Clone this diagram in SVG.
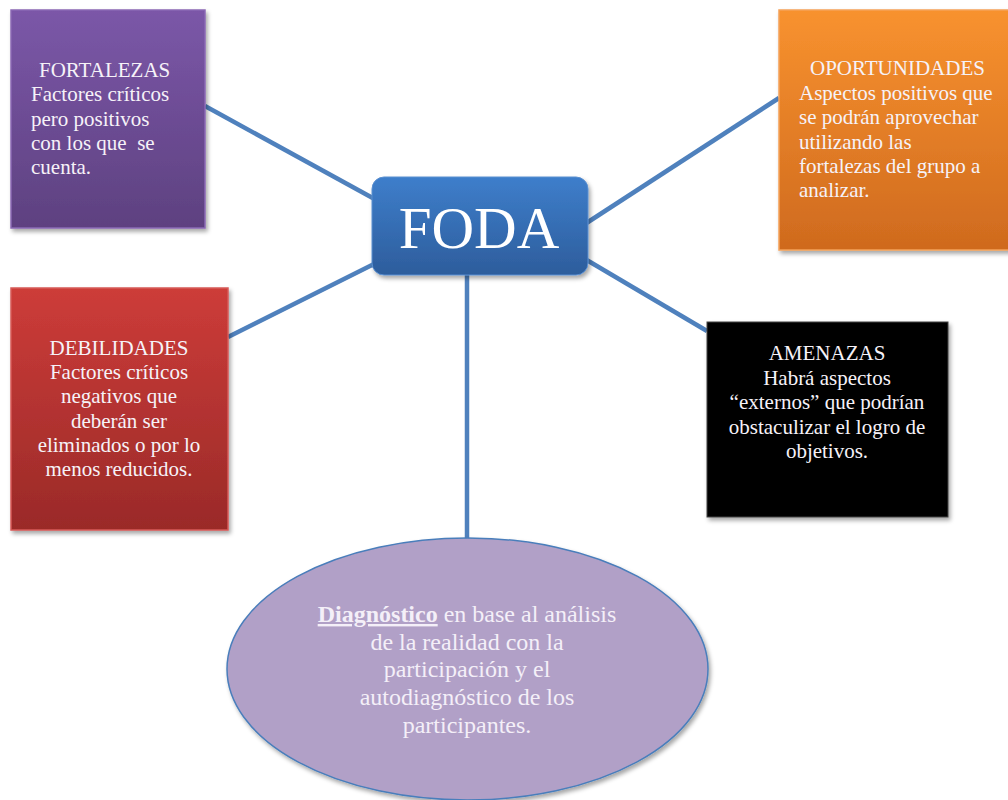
<svg xmlns="http://www.w3.org/2000/svg" width="1008" height="800" viewBox="0 0 1008 800">
  <style>
    .link { stroke: #4f81bd; stroke-width: 4.5; fill: none; }
    .lbl { font-family: "Liberation Serif", "Times New Roman", serif; font-size: 21px; fill: #f6f2f8; }
    .mid { text-anchor: middle; }
    .title { font-family: "Liberation Serif", "Times New Roman", serif; font-size: 59px; fill: #ffffff; text-anchor: middle; }
    .oval { font-family: "Liberation Serif", "Times New Roman", serif; font-size: 24px; fill: #f4eff8; text-anchor: middle; }
  </style>
  <defs>
    <filter id="shadow" x="-10%" y="-10%" width="125%" height="125%">
      <feDropShadow dx="2" dy="3" stdDeviation="2" flood-color="#000" flood-opacity="0.35"/>
    </filter>
    <linearGradient id="gPurple" x1="0" y1="0" x2="0" y2="1">
      <stop offset="0" stop-color="#7b57a8"/>
      <stop offset="1" stop-color="#5e4180"/>
    </linearGradient>
    <linearGradient id="gRed" x1="0" y1="0" x2="0" y2="1">
      <stop offset="0" stop-color="#cd3c39"/>
      <stop offset="1" stop-color="#9a2a28"/>
    </linearGradient>
    <linearGradient id="gOrange" x1="0" y1="0" x2="0" y2="1">
      <stop offset="0" stop-color="#f8922f"/>
      <stop offset="1" stop-color="#cf6a1e"/>
    </linearGradient>
    <linearGradient id="gBlue" x1="0" y1="0" x2="0" y2="1">
      <stop offset="0" stop-color="#3e7ecb"/>
      <stop offset="1" stop-color="#2d5d9c"/>
    </linearGradient>
  </defs>

  <!-- connectors from the central node to each quadrant and the diagnosis oval -->
  <g id="connectors">
    <line class="link" x1="205" y1="106" x2="380" y2="202"/>
    <line class="link" x1="228" y1="337" x2="378" y2="262"/>
    <line class="link" x1="779" y1="98" x2="585" y2="224"/>
    <line class="link" x1="707" y1="331" x2="585" y2="259"/>
    <line class="link" x1="467" y1="270" x2="467" y2="540"/>
  </g>

  <g id="fortalezas">
    <rect x="11" y="10" width="194" height="218" fill="url(#gPurple)" stroke="#8a68b4" stroke-width="1.5" filter="url(#shadow)"/>
    <text class="lbl" x="39" y="77">FORTALEZAS</text>
    <text class="lbl" x="31" y="101">Factores críticos</text>
    <text class="lbl" x="31" y="126">pero positivos</text>
    <text class="lbl" x="31" y="150" xml:space="preserve">con los que  se</text>
    <text class="lbl" x="31" y="174">cuenta.</text>
  </g>

  <g id="debilidades">
    <rect x="11" y="288" width="217" height="242" fill="url(#gRed)" stroke="#d65a57" stroke-width="1.5" filter="url(#shadow)"/>
    <text class="lbl mid" x="119" y="355">DEBILIDADES</text>
    <text class="lbl mid" x="119" y="379">Factores críticos</text>
    <text class="lbl mid" x="119" y="403">negativos que</text>
    <text class="lbl mid" x="119" y="428">deberán ser</text>
    <text class="lbl mid" x="119" y="452">eliminados o por lo</text>
    <text class="lbl mid" x="119" y="476">menos reducidos.</text>
  </g>

  <g id="oportunidades">
    <rect x="779" y="10" width="235" height="240" fill="url(#gOrange)" stroke="#f5a25a" stroke-width="1.5" filter="url(#shadow)"/>
    <text class="lbl" x="810" y="75">OPORTUNIDADES</text>
    <text class="lbl" x="799" y="100">Aspectos positivos que</text>
    <text class="lbl" x="799" y="124">se podrán aprovechar</text>
    <text class="lbl" x="799" y="149">utilizando las</text>
    <text class="lbl" x="799" y="173">fortalezas del grupo a</text>
    <text class="lbl" x="799" y="197">analizar.</text>
  </g>

  <g id="amenazas">
    <rect x="707" y="322" width="241" height="195" fill="#000000" stroke="#404040" stroke-width="1" filter="url(#shadow)"/>
    <text class="lbl mid" x="827" y="360">AMENAZAS</text>
    <text class="lbl mid" x="827" y="385">Habrá aspectos</text>
    <text class="lbl mid" x="827" y="409">“externos” que podrían</text>
    <text class="lbl mid" x="827" y="434">obstaculizar el logro de</text>
    <text class="lbl mid" x="827" y="458">objetivos.</text>
  </g>

  <g id="foda">
    <rect x="372" y="177" width="216" height="98" rx="12" ry="12" fill="url(#gBlue)" stroke="#5a8fd0" stroke-width="1" filter="url(#shadow)"/>
    <text class="title" x="479" y="248">FODA</text>
  </g>

  <g id="diagnostico">
    <ellipse cx="467.5" cy="669" rx="240.5" ry="131" fill="#b1a0c7" stroke="#4a7ebb" stroke-width="1.5" filter="url(#shadow)"/>
    <text class="oval" x="467" y="622"><tspan font-weight="bold" text-decoration="underline">Diagnóstico</tspan> en base al análisis</text>
    <text class="oval" x="467" y="650">de la realidad con la</text>
    <text class="oval" x="467" y="677">participación y el</text>
    <text class="oval" x="467" y="705">autodiagnóstico de los</text>
    <text class="oval" x="467" y="733">participantes.</text>
  </g>
</svg>
